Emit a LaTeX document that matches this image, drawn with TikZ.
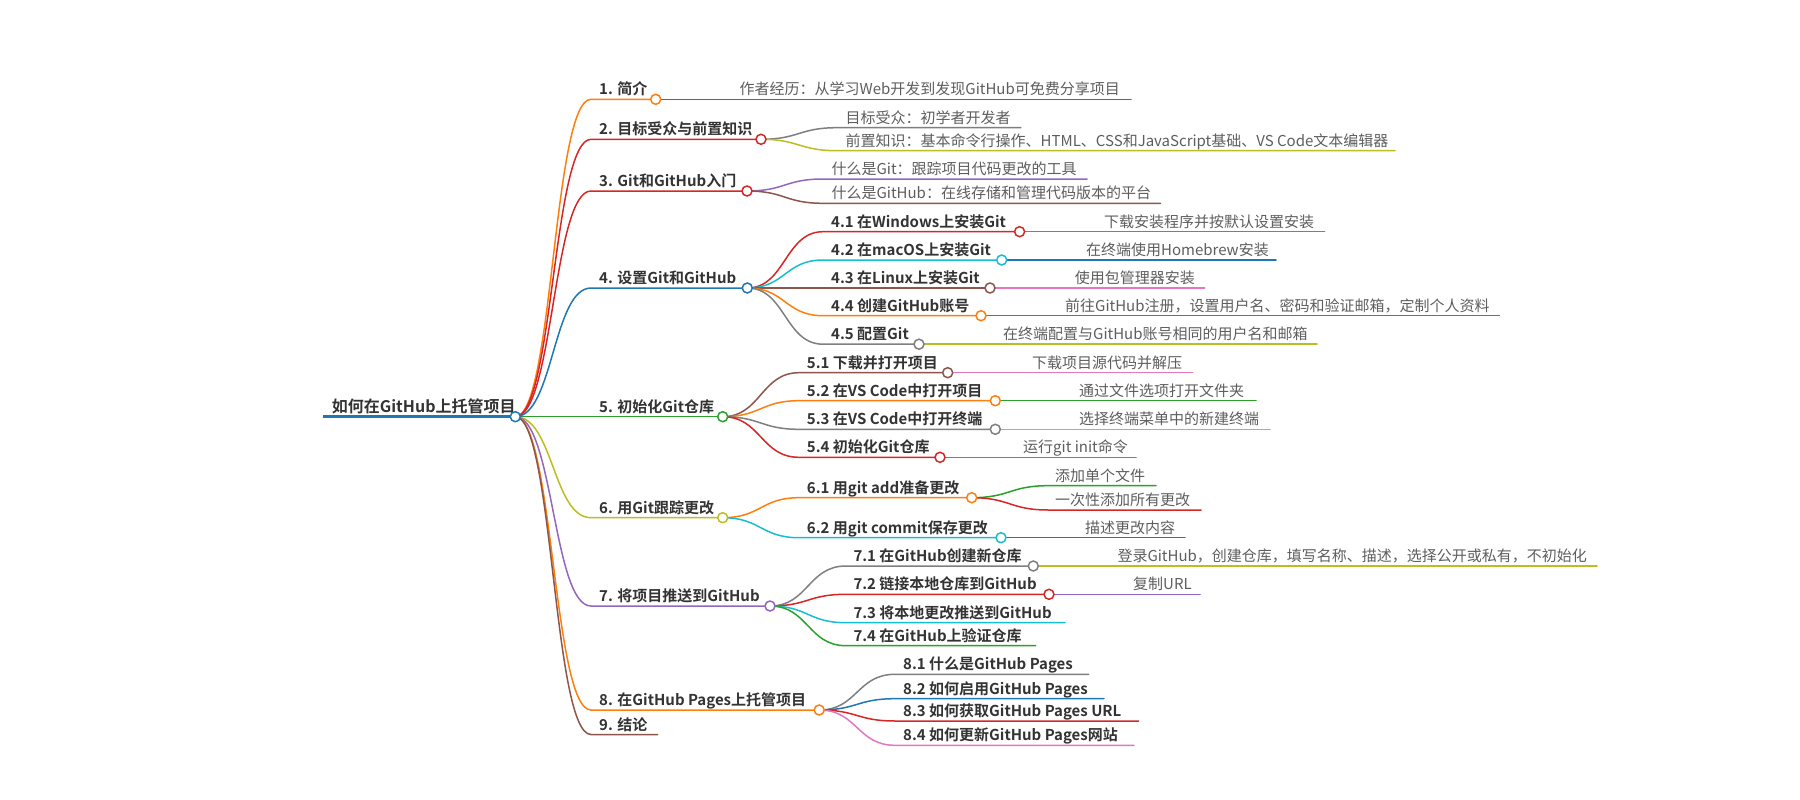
\documentclass[tikz,border=0pt]{standalone}
\usepackage{fontspec}
\setmainfont{Noto Sans CJK SC}[BoldFont={Noto Sans CJK SC Bold}]
\definecolor{cblue}{HTML}{1F77B4}
\definecolor{corange}{HTML}{FF7F0E}
\definecolor{cgreen}{HTML}{2CA02C}
\definecolor{cred}{HTML}{D62728}
\definecolor{cpurple}{HTML}{9467BD}
\definecolor{cbrown}{HTML}{8C564B}
\definecolor{cpink}{HTML}{E377C2}
\definecolor{cgray}{HTML}{7F7F7F}
\definecolor{colive}{HTML}{BCBD22}
\definecolor{ccyan}{HTML}{17BECF}
\definecolor{hdtext}{HTML}{333333}
\definecolor{lftext}{HTML}{5E5E5E}
\tikzset{
  hd/.style={anchor=base west, inner sep=0pt, text=hdtext, font=\fontsize{15}{18}\selectfont\bfseries},
  lf/.style={anchor=base west, inner sep=0pt, text=lftext, font=\fontsize{15}{18}\selectfont},
  dot/.style={circle, draw=#1, fill=white, line width=1.5pt, minimum size=10pt, inner sep=0pt},
  ln/.style={draw=#1, line width=1.5pt, line cap=round},
}
\newcommand\mmlink[4]{\draw[ln=#1] (#2) .. controls +(38,0) and +(-38,0) .. (#3) -- (#4);}
\begin{document}
\begin{tikzpicture}[x=1pt,y=-1pt]
\fill[white] (0,0) rectangle (1800,800);
\useasboundingbox (0,0) rectangle (1800,800);
% ---------- positions ----------
% root
\coordinate (sR) at (322.7,416.7); \coordinate (cR) at (515.3,416.7);
\node[hd, font=\fontsize{16}{19}\selectfont\bfseries] (tR) at (331.7,412) {如何在GitHub上托管项目};
% level 1
\coordinate (s1) at (591,99.3);  \coordinate (c1) at (655.7,99.3);
\coordinate (s2) at (591,139.3); \coordinate (c2) at (761,139.3);
\coordinate (s3) at (591,191);   \coordinate (c3) at (747,191);
\coordinate (s4) at (591,288);   \coordinate (c4) at (747.3,288);
\coordinate (s5) at (591,416.7); \coordinate (c5) at (722.7,416.7);
\coordinate (s6) at (591,517.7); \coordinate (c6) at (722.7,517.7);
\coordinate (s7) at (591,606);   \coordinate (c7) at (770,606);
\coordinate (s8) at (591,710);   \coordinate (c8) at (819.2,710);
\coordinate (s9) at (591,734.5); \coordinate (e9) at (657.5,734.5);
\node[hd] (t1) at (599,94.8)  {1. 简介};
\node[hd] (t2) at (599,134.8) {2. 目标受众与前置知识};
\node[hd] (t3) at (599,186.5) {3. Git和GitHub入门};
\node[hd] (t4) at (599,283.5) {4. 设置Git和GitHub};
\node[hd] (t5) at (599,412.2) {5. 初始化Git仓库};
\node[hd] (t6) at (599,513.2) {6. 用Git跟踪更改};
\node[hd] (t7) at (599,601.5) {7. 将项目推送到GitHub};
\node[hd] (t8) at (599,705.5) {8. 在GitHub Pages上托管项目};
\node[hd] (t9) at (599,730)   {9. 结论};
% branch 1-3 leaves
\coordinate (s1a) at (732,99.3);  \coordinate (e1a) at (1131,99.3);
\node[lf] (t1a) at (739.5,94.8) {作者经历：从学习Web开发到发现GitHub可免费分享项目};
\coordinate (s2a) at (837,127.7); \coordinate (e2a) at (1020.8,127.7);
\node[lf] (t2a) at (845.5,123.2) {目标受众：初学者开发者};
\coordinate (s2b) at (837,150.7); \coordinate (e2b) at (1395,150.7);
\node[lf] (t2b) at (845.5,146.2) {前置知识：基本命令行操作、HTML、CSS和JavaScript基础、VS Code文本编辑器};
\coordinate (s3a) at (823,179);   \coordinate (e3a) at (1087,179);
\node[lf] (t3a) at (831.4,174.5) {什么是Git：跟踪项目代码更改的工具};
\coordinate (s3b) at (823,203.3); \coordinate (e3b) at (1160.5,203.3);
\node[lf] (t3b) at (831.4,198.8) {什么是GitHub：在线存储和管理代码版本的平台};
% branch 4
\coordinate (s41) at (823,231.7); \coordinate (c41) at (1019.6,231.7);
\coordinate (s42) at (823,260);   \coordinate (c42) at (1001.7,260);
\coordinate (s43) at (823,288);   \coordinate (c43) at (990,288);
\coordinate (s44) at (823,315.7); \coordinate (c44) at (981,315.7);
\coordinate (s45) at (823,344.2); \coordinate (c45) at (919,344.2);
\node[hd] (t41) at (831,227.2) {4.1 在Windows上安装Git};
\node[hd] (t42) at (831,255.5) {4.2 在macOS上安装Git};
\node[hd] (t43) at (831,283.5) {4.3 在Linux上安装Git};
\node[hd] (t44) at (831,311.2) {4.4 创建GitHub账号};
\node[hd] (t45) at (831,339.7) {4.5 配置Git};
\coordinate (s41a) at (1096,231.7); \coordinate (e41a) at (1324.5,231.7);
\coordinate (s42a) at (1078,260);   \coordinate (e42a) at (1276,260);
\coordinate (s43a) at (1066,288);   \coordinate (e43a) at (1204.7,288);
\coordinate (s44a) at (1057,315.7); \coordinate (e44a) at (1499.4,315.7);
\coordinate (s45a) at (995,344.2);  \coordinate (e45a) at (1317,344.2);
\node[lf] (t41a) at (1104,227.2)   {下载安装程序并按默认设置安装};
\node[lf] (t42a) at (1086,255.5)   {在终端使用Homebrew安装};
\node[lf] (t43a) at (1074.6,283.5) {使用包管理器安装};
\node[lf] (t44a) at (1065,311.2)   {前往GitHub注册，设置用户名、密码和验证邮箱，定制个人资料};
\node[lf] (t45a) at (1003,339.7)   {在终端配置与GitHub账号相同的用户名和邮箱};
% branch 5
\coordinate (s51) at (799,372.7); \coordinate (c51) at (947.7,372.7);
\coordinate (s52) at (799,400.7); \coordinate (c52) at (995.3,400.7);
\coordinate (s53) at (799,429.3); \coordinate (c53) at (995.3,429.3);
\coordinate (s54) at (799,457.3); \coordinate (c54) at (940,457.3);
\node[hd] (t51) at (806.7,368.2) {5.1 下载并打开项目};
\node[hd] (t52) at (806.7,396.2) {5.2 在VS Code中打开项目};
\node[hd] (t53) at (806.7,424.8) {5.3 在VS Code中打开终端};
\node[hd] (t54) at (806.7,452.8) {5.4 初始化Git仓库};
\coordinate (s51a) at (1024,372.7); \coordinate (e51a) at (1192.7,372.7);
\coordinate (s52a) at (1071,400.7); \coordinate (e52a) at (1256,400.7);
\coordinate (s53a) at (1071,429.3); \coordinate (e53a) at (1270,429.3);
\coordinate (s54a) at (1016,457.3); \coordinate (e54a) at (1136,457.3);
\node[lf] (t51a) at (1032,368.2) {下载项目源代码并解压};
\node[lf] (t52a) at (1079,396.2) {通过文件选项打开文件夹};
\node[lf] (t53a) at (1079,424.8) {选择终端菜单中的新建终端};
\node[lf] (t54a) at (1023,452.8) {运行git init命令};
% branch 6
\coordinate (s61) at (799,497.7); \coordinate (c61) at (971.7,497.7);
\coordinate (s62) at (799,537.7); \coordinate (c62) at (1001,537.7);
\node[hd] (t61) at (806.7,493.2) {6.1 用git add准备更改};
\node[hd] (t62) at (806.7,533.2) {6.2 用git commit保存更改};
\coordinate (s61a) at (1048,485.7); \coordinate (e61a) at (1156,485.7);
\coordinate (s61b) at (1048,510);   \coordinate (e61b) at (1201,510);
\coordinate (s62a) at (1077,537.7); \coordinate (e62a) at (1185,537.7);
\node[lf] (t61a) at (1055,481.2) {添加单个文件};
\node[lf] (t61b) at (1055,505.5) {一次性添加所有更改};
\node[lf] (t62a) at (1085,533.2) {描述更改内容};
% branch 7
\coordinate (s71) at (846,566);   \coordinate (c71) at (1033.3,566);
\coordinate (s72) at (846,594.3); \coordinate (c72) at (1049,594.3);
\coordinate (s73) at (846,622.7); \coordinate (e73) at (1065,622.7);
\coordinate (s74) at (846,645.7); \coordinate (e74) at (1035.7,645.7);
\node[hd] (t71) at (853.3,561.5) {7.1 在GitHub创建新仓库};
\node[hd] (t72) at (853.3,589.8) {7.2 链接本地仓库到GitHub};
\node[hd] (t73) at (853.3,618.2) {7.3 将本地更改推送到GitHub};
\node[hd] (t74) at (853.3,641.2) {7.4 在GitHub上验证仓库};
\coordinate (s71a) at (1109,566);   \coordinate (e71a) at (1597,566);
\coordinate (s72a) at (1125,594.3); \coordinate (e72a) at (1200,594.3);
\node[lf] (t71a) at (1117.3,561.5) {登录GitHub，创建仓库，填写名称、描述，选择公开或私有，不初始化};
\node[lf] (t72a) at (1133,589.8) {复制URL};
% branch 8
\coordinate (s81) at (895,674.3); \coordinate (e81) at (1088.7,674.3);
\coordinate (s82) at (895,698.7); \coordinate (e82) at (1104,698.7);
\coordinate (s83) at (895,721);   \coordinate (e83) at (1138.5,721);
\coordinate (s84) at (895,745.3); \coordinate (e84) at (1134,745.3);
\node[hd] (t81) at (903,669.8) {8.1 什么是GitHub Pages};
\node[hd] (t82) at (903,694.2) {8.2 如何启用GitHub Pages};
\node[hd] (t83) at (903,716.5) {8.3 如何获取GitHub Pages URL};
\node[hd] (t84) at (903,740.8) {8.4 如何更新GitHub Pages网站};
% ---------- connectors ----------
\draw[cblue, line width=2.5pt] (sR) -- (cR);
\mmlink{corange}{cR}{s1}{c1}
\mmlink{cred}{cR}{s2}{c2}
\mmlink{cred}{cR}{s3}{c3}
\mmlink{cblue}{cR}{s4}{c4}
\mmlink{cgreen}{cR}{s5}{c5}
\mmlink{colive}{cR}{s6}{c6}
\mmlink{cpurple}{cR}{s7}{c7}
\mmlink{corange}{cR}{s8}{c8}
\mmlink{cbrown}{cR}{s9}{e9}
\mmlink{cbrown}{c1}{s1a}{e1a}
\mmlink{cgray}{c2}{s2a}{e2a}
\mmlink{colive}{c2}{s2b}{e2b}
\mmlink{cpurple}{c3}{s3a}{e3a}
\mmlink{cbrown}{c3}{s3b}{e3b}
\mmlink{cred}{c4}{s41}{c41}
\mmlink{ccyan}{c4}{s42}{c42}
\mmlink{cbrown}{c4}{s43}{c43}
\mmlink{corange}{c4}{s44}{c44}
\mmlink{cgray}{c4}{s45}{c45}
\mmlink{cpurple}{c41}{s41a}{e41a}
\mmlink{cblue}{c42}{s42a}{e42a}
\mmlink{cpink}{c43}{s43a}{e43a}
\mmlink{cgreen}{c44}{s44a}{e44a}
\mmlink{colive}{c45}{s45a}{e45a}
\mmlink{cbrown}{c5}{s51}{c51}
\mmlink{corange}{c5}{s52}{c52}
\mmlink{cgray}{c5}{s53}{c53}
\mmlink{cred}{c5}{s54}{c54}
\mmlink{cpink}{c51}{s51a}{e51a}
\mmlink{cgreen}{c52}{s52a}{e52a}
\mmlink{colive}{c53}{s53a}{e53a}
\mmlink{cpurple}{c54}{s54a}{e54a}
\mmlink{corange}{c6}{s61}{c61}
\mmlink{ccyan}{c6}{s62}{c62}
\mmlink{cgreen}{c61}{s61a}{e61a}
\mmlink{cred}{c61}{s61b}{e61b}
\mmlink{cblue}{c62}{s62a}{e62a}
\mmlink{cgray}{c7}{s71}{c71}
\mmlink{cred}{c7}{s72}{c72}
\mmlink{ccyan}{c7}{s73}{e73}
\mmlink{cgreen}{c7}{s74}{e74}
\mmlink{colive}{c71}{s71a}{e71a}
\mmlink{cpurple}{c72}{s72a}{e72a}
\mmlink{cgray}{c8}{s81}{e81}
\mmlink{cblue}{c8}{s82}{e82}
\mmlink{cred}{c8}{s83}{e83}
\mmlink{cpink}{c8}{s84}{e84}
% ---------- junction circles ----------
\node[dot=cblue]   (dR) at (cR) {};
\node[dot=corange] (d1) at (c1) {};
\node[dot=cred]    (d2) at (c2) {};
\node[dot=cred]    (d3) at (c3) {};
\node[dot=cblue]   (d4) at (c4) {};
\node[dot=cgreen]  (d5) at (c5) {};
\node[dot=colive]  (d6) at (c6) {};
\node[dot=cpurple] (d7) at (c7) {};
\node[dot=corange] (d8) at (c8) {};
\node[dot=cred]    (d41) at (c41) {};
\node[dot=ccyan]   (d42) at (c42) {};
\node[dot=cbrown]  (d43) at (c43) {};
\node[dot=corange] (d44) at (c44) {};
\node[dot=cgray]   (d45) at (c45) {};
\node[dot=cbrown]  (d51) at (c51) {};
\node[dot=corange] (d52) at (c52) {};
\node[dot=cgray]   (d53) at (c53) {};
\node[dot=cred]    (d54) at (c54) {};
\node[dot=corange] (d61) at (c61) {};
\node[dot=ccyan]   (d62) at (c62) {};
\node[dot=cgray]   (d71) at (c71) {};
\node[dot=cred]    (d72) at (c72) {};
\end{tikzpicture}
\end{document}
